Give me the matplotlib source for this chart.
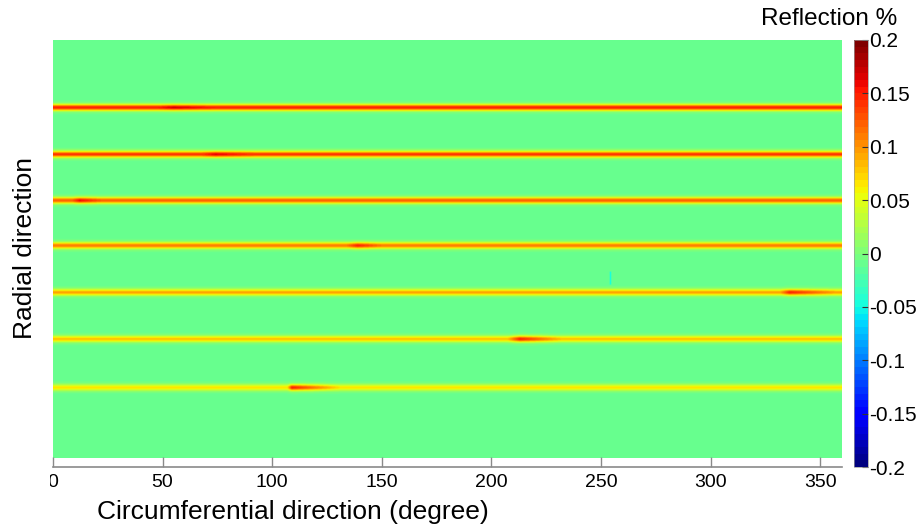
import numpy as np
import matplotlib
matplotlib.use("Agg")
import matplotlib.pyplot as plt
from matplotlib.patches import Rectangle

plt.rcParams['font.family'] = ['Liberation Sans', 'DejaVu Sans']

# Scan geometry: angle (deg) across, radial row index down
angle_max = 360.0
radial_rows = 418.0

# Reflective rings: centre row, peak reflection (%) and half-width (rows)
line_rows = [68.3, 115.0, 161.0, 206.0, 252.7, 299.3, 347.7]
line_peaks = [0.150, 0.140, 0.125, 0.112, 0.095, 0.082, 0.068]
line_sigma = 2.2

# Local bright segments on each ring: ring, start, strongest, end (deg), peak
seg_line = [0, 1, 2, 3, 4, 5, 6]
seg_start = [48.0, 68.0, 9.0, 134.0, 332.0, 207.5, 107.0]
seg_top = [55.0, 74.0, 12.0, 139.0, 336.0, 213.0, 109.0]
seg_end = [74.0, 92.0, 22.0, 150.0, 357.0, 232.0, 131.0]
seg_peak = [0.170, 0.165, 0.160, 0.150, 0.150, 0.150, 0.150]

# Small dark speck between rings 4 and 5
speck_angle = 254.3
speck_rows = (232.0, 245.0)
speck_value = -0.045

background = -0.008

cbar_ticks = [0.2, 0.15, 0.1, 0.05, 0.0, -0.05, -0.1, -0.15, -0.2]
cbar_labels = ['0.2', '0.15', '0.1', '0.05', '0', '-0.05', '-0.1', '-0.15', '-0.2']
x_ticks = [0, 50, 100, 150, 200, 250, 300, 350]

# Build the reflection map
na, nr = 1440, 836
theta = (np.arange(na) + 0.5) * angle_max / na
rows = (np.arange(nr) + 0.5) * radial_rows / nr
T, R = np.meshgrid(theta, rows)
field = np.full(T.shape, background)
for i, (r0, pk) in enumerate(zip(line_rows, line_peaks)):
    amp = np.full(theta.shape, pk)
    for k, li in enumerate(seg_line):
        if li != i:
            continue
        s, m, e, v = seg_start[k], seg_top[k], seg_end[k], seg_peak[k]
        rise = np.clip((theta - s) / max(m - s, 1e-6), 0, 1)
        fall = np.clip((e - theta) / (e - m), 0, 1)
        w = np.where(theta < m, rise, fall) * ((theta >= s) & (theta <= e))
        amp = np.maximum(amp, pk + (v - pk) * w)
    prof = np.exp(-0.5 * ((R - r0) / line_sigma) ** 2)
    field = field + (amp[None, :] - background) * prof
speck = (np.abs(T - speck_angle) < 0.35) & (R >= speck_rows[0]) & (R <= speck_rows[1])
field[speck] = speck_value

fig = plt.figure(figsize=(9.18, 5.29), dpi=100)
W, H = 918.0, 529.0
ax = fig.add_axes([53 / W, (H - 467) / H, (842 - 53) / W, (467 - 40) / H])
cmap = plt.get_cmap('jet', 64)
im = ax.imshow(field, cmap=cmap, vmin=-0.2, vmax=0.2, aspect='auto',
               extent=[0, angle_max, radial_rows, 0], interpolation='bilinear')
ax.set_xlim(0, angle_max)
ax.set_ylim(427, 0)
for sp in ['top', 'left', 'right']:
    ax.spines[sp].set_visible(False)
ax.spines['bottom'].set_color('#8a8a8a')
ax.spines['bottom'].set_linewidth(1.2)
ax.set_yticks([])
ax.set_xticks(x_ticks)
ax.set_xticklabels([str(t) for t in x_ticks])
ax.tick_params(axis='x', direction='in', length=7, width=1, color='#8a8a8a',
               labelsize=14, pad=5)

# The figure is trimmed just left of the axes, cutting the first tick label
fig.add_artist(Rectangle((0, 0), 50 / W, 70 / H, transform=fig.transFigure,
                         facecolor='white', edgecolor='none', zorder=10))

cax = fig.add_axes([854 / W, (H - 467) / H, 14 / W, (467 - 40) / H])
cb = fig.colorbar(im, cax=cax)
cb.set_ticks(cbar_ticks)
cb.set_ticklabels(cbar_labels)
cb.outline.set_linewidth(0.5)
cb.outline.set_edgecolor('#999999')
cax.tick_params(direction='in', length=4, width=0.8, color='#333333',
                labelsize=15, pad=1)

fig.text(829 / W, 1 - 19 / H, 'Reflection %', fontsize=17.5, ha='center', va='center')
fig.text(293 / W, 1 - 512 / H, 'Circumferential direction (degree)', fontsize=19,
         ha='center', va='center')
fig.text(25 / W, 1 - 248 / H, 'Radial direction', fontsize=19, rotation=90,
         ha='center', va='center')

fig.savefig('out.png', dpi=100)
